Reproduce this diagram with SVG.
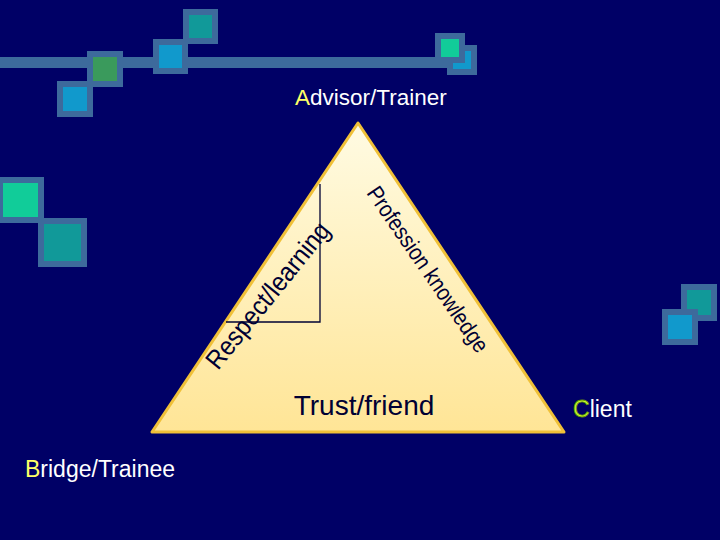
<svg xmlns="http://www.w3.org/2000/svg" width="720" height="540" viewBox="0 0 720 540">
<defs>
<linearGradient id="tri" x1="0" y1="0" x2="0" y2="1">
<stop offset="0" stop-color="#fffbe3"/>
<stop offset="1" stop-color="#ffe596"/>
</linearGradient>
</defs>
<style>
.sq{stroke:#3d6a9c;stroke-width:6}
.g{fill:#3a9a5c}.b{fill:#1199cc}.t{fill:#119999}.lg{fill:#11cc99}
.lbl{font-family:"Liberation Sans",Arial,sans-serif;fill:#ffffff}
.hi{fill:#ffff66}
.in{font-family:"Liberation Sans",Arial,sans-serif;fill:#000033}
</style>
<rect width="720" height="540" fill="#000066"/>
<g id="decor">
<rect x="0" y="57" width="450" height="11" fill="#3d6a9c"/>
<rect class="sq b" x="60" y="84" width="30" height="30"/>
<rect class="sq g" x="90" y="54" width="30" height="30"/>
<rect class="sq b" x="156" y="42" width="29" height="29"/>
<rect class="sq t" x="186" y="12" width="29" height="29"/>
<rect class="sq b" x="450" y="48" width="24" height="24"/>
<rect class="sq lg" x="438" y="36" width="24" height="24"/>
<rect class="sq lg" x="0" y="180" width="41" height="40"/>
<rect class="sq t" x="41" y="221" width="43" height="43"/>
<rect class="sq t" x="684" y="287" width="30" height="31"/>
<rect class="sq b" x="665" y="312" width="30" height="30"/>
</g>
<g id="triangle">
<polygon points="358,123 152,432 564,432" fill="url(#tri)" stroke="#f0c038" stroke-width="3" stroke-linejoin="round"/>
<polyline points="320,184 320,322 226,322" fill="none" stroke="#000033" stroke-width="1.3"/>
<text class="in" font-size="26.5" textLength="180" lengthAdjust="spacingAndGlyphs" transform="translate(218,371) rotate(-51)">Respect/learning</text>
<text class="in" font-size="23" textLength="196" lengthAdjust="spacingAndGlyphs" transform="translate(366,193) rotate(55.5)">Profession knowledge</text>
<text class="in" font-size="28" x="364" y="415" text-anchor="middle">Trust/friend</text>
</g>
<g id="advisor"><text class="lbl" font-size="22.5" x="295" y="105"><tspan class="hi">A</tspan>dvisor/Trainer</text></g>
<g id="bridge"><text class="lbl" font-size="23" x="25" y="477"><tspan class="hi">B</tspan>ridge/Trainee</text></g>
<g id="client"><text class="lbl" font-size="23" x="573" y="417"><tspan fill="#ccff33" stroke="#669900" stroke-width="0.8">C</tspan>lient</text></g>
</svg>
